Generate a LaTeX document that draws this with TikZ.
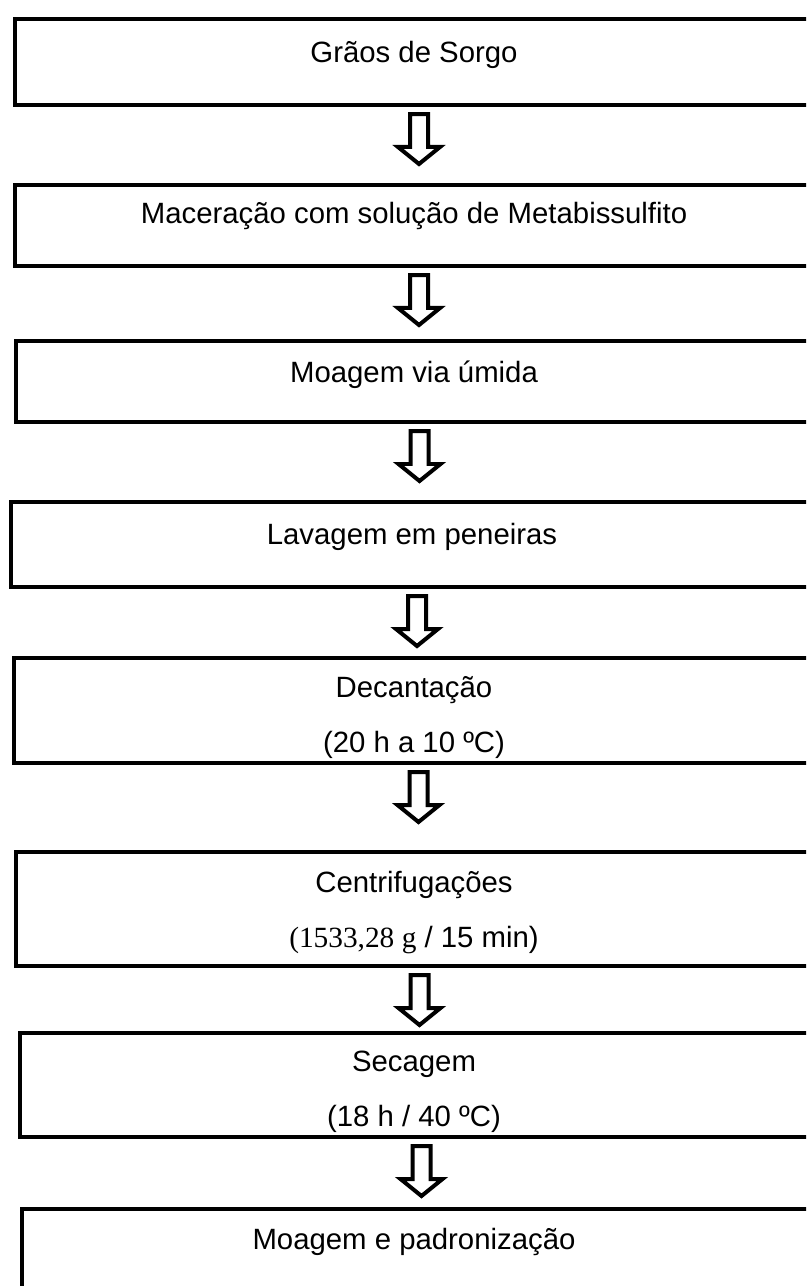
\documentclass[tikz,border=0pt]{standalone}
\usepackage{fontspec}
\setmainfont{Liberation Sans}
\newfontfamily\serifa{Liberation Serif}
\usetikzlibrary{calc,fit}
\tikzset{
	caixa/.style={draw, line width=0.08cm, inner sep=0pt},
	rotulo/.style={font=\fontsize{16.7}{20}\selectfont, inner sep=0pt, anchor=base},
	seta/.style={draw, line width=0.08cm, fill=white, line join=miter}
}
\def\blocoseta(#1)(#2){
	\coordinate (s) at ($(#1.south)+(5,7)$);
	\coordinate (e) at ($(#2.north)+(5,0)$);
	\coordinate (p) at ($(s)!1cm!(s|-e)$);
	\draw[seta] ($(s)+(-9,0)$) -- ($(p)+(-9,-17)$) -- ($(p)+(-21,-17)$) -- (p) -- ($(p)+(21,-17)$) -- ($(p)+(9,-17)$) -- ($(s)+(9,0)$) -- cycle;
}

\begin{document}
\begin{tikzpicture}[x=0.02cm, y=-0.02cm]
			%%%%% START %%%%%
			\path[use as bounding box, clip] (0,0) rectangle (806,1286);
			
			\node[caixa, fit={(15,19) (813,105)}] (b1) {};
			\node[rotulo] (t1) at (414,62) {Grãos de Sorgo};
			
			\node[caixa, fit={(15,185) (813,266)}] (b2) {};
			\node[rotulo] (t2) at (414,223) {Maceração com solução de Metabissulfito};
			
			\node[caixa, fit={(16,341) (813,422)}] (b3) {};
			\node[rotulo] (t3) at (414,382) {Moagem via úmida};
			
			\node[caixa, fit={(11,502) (813,587)}] (b4) {};
			\node[rotulo] (t4) at (412,544) {Lavagem em peneiras};
			
			\node[caixa, fit={(14,658) (813,763)}] (b5) {};
			\node[rotulo] (t5) at (414,697) {Decantação};
			\node[rotulo] (t5b) at (414,752) {(20 h a 10 ºC)};
			
			\node[caixa, fit={(16,852) (813,966)}] (b6) {};
			\node[rotulo] (t6) at (414,892) {Centrifugações};
			\node[rotulo] (t6b) at (414,947) {{\serifa (1533,28 g} / 15 min)};
			
			\node[caixa, fit={(20,1033) (813,1137)}] (b7) {};
			\node[rotulo] (t7) at (414,1071) {Secagem};
			\node[rotulo] (t7b) at (414,1126) {(18 h / 40 ºC)};
			
			\node[caixa, fit={(22,1209) (813,1300)}] (b8) {};
			\node[rotulo] (t8) at (414,1249) {Moagem e padronização};
			
			\blocoseta(b1)(b2)
			\blocoseta(b2)(b3)
			\blocoseta(b3)(b4)
			\blocoseta(b4)(b5)
			\blocoseta(b5)(b6)
			\blocoseta(b6)(b7)
			\blocoseta(b7)(b8)
			%%%%% END %%%%%
\end{tikzpicture}
\end{document}
